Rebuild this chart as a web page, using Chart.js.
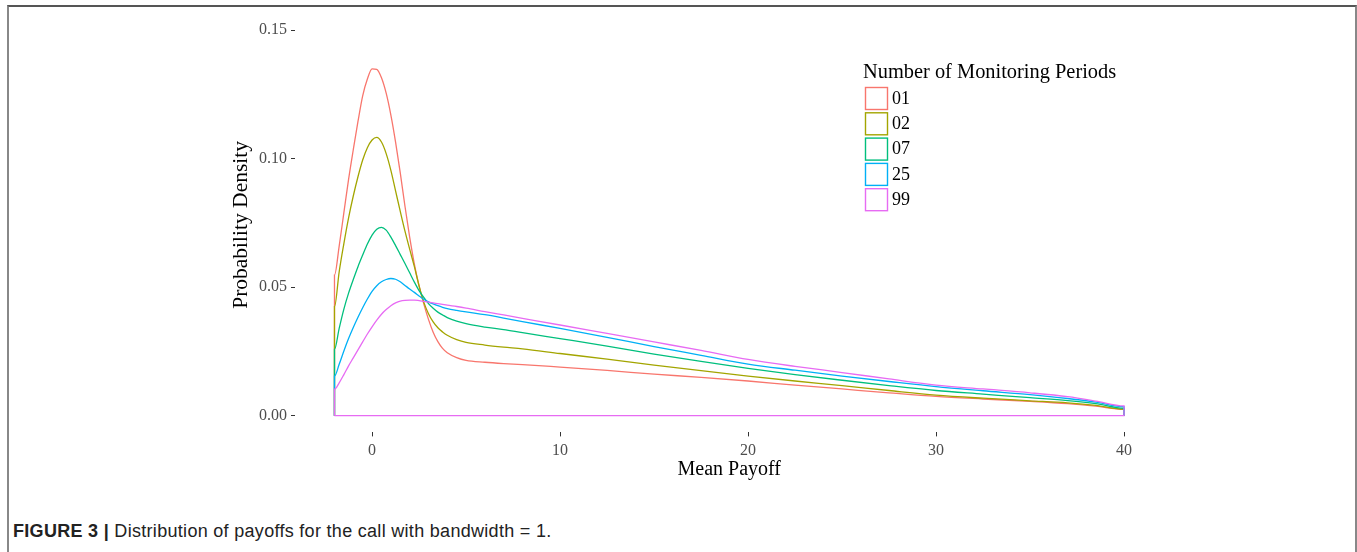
<!DOCTYPE html>
<html>
<head>
<meta charset="utf-8">
<script src="https://cdn.jsdelivr.net/npm/chart.js@4.4.0/dist/chart.umd.min.js"></script>
<style>
  body { margin: 0; background: #fff; width: 1357px; height: 552px; overflow: hidden; position: relative; }
  #frame { position: absolute; left: 7px; top: 5px; width: 1346px; height: 600px;
           border-top: 2px solid #555; border-left: 2px solid #888; border-right: 2px solid #888; }
  #myChart { position: absolute; left: 0; top: 0; }
  #caption { position: absolute; left: 13px; top: 521px; font-family: "Liberation Sans", Arial, sans-serif;
             font-size: 18px; line-height: 20px; letter-spacing: 0.3px; color: #222; white-space: nowrap; }
  #caption b { font-weight: bold; }
</style>
</head>
<body>
<div id="frame"></div>
<canvas id="myChart" width="1357" height="482"></canvas>
<div id="caption"><b>FIGURE 3 |</b> Distribution of payoffs for the call with bandwidth = 1.</div>
<script>
// x-värden (Mean Payoff) som alla kurvor läses av på
const payoffs = [-2, -1.75, -1.5, -1.25, -1, -0.75, -0.5, -0.25, 0, 0.25, 0.5, 0.75, 1, 1.25, 1.5, 1.75,
  2, 2.25, 2.5, 2.75, 3, 3.25, 3.5, 3.75, 4, 4.5, 5, 6, 7, 8, 10, 12.5, 15, 17.5, 20, 22.5, 25, 27.5,
  30, 32.5, 35, 37, 38.5, 40];

const periodLabels = ["01", "02", "07", "25", "99"];
const periodColors = ["#F8766D", "#A3A500", "#00BF7D", "#00B0F6", "#E76BF3"];

const density01 = [0.0547, 0.066, 0.079, 0.092, 0.1035, 0.1145, 0.1245, 0.131, 0.135, 0.1348, 0.1315, 0.1255,
  0.117, 0.1065, 0.0945, 0.0815, 0.0695, 0.059, 0.0505, 0.0435, 0.0375, 0.0325, 0.0288, 0.0262, 0.0245,
  0.0226, 0.0215, 0.0208, 0.0203, 0.0199, 0.0189, 0.0176, 0.0162, 0.0149, 0.0135, 0.0119, 0.0104,
  0.0089, 0.0075, 0.0065, 0.0056, 0.0047, 0.0037, 0.0025];
const density02 = [0.0424, 0.056, 0.067, 0.077, 0.0855, 0.093, 0.0995, 0.1043, 0.1073, 0.1083, 0.1065, 0.102,
  0.0955, 0.0875, 0.0795, 0.0718, 0.0648, 0.058, 0.0505, 0.0442, 0.0397, 0.0365, 0.0342, 0.0326, 0.0313,
  0.0296, 0.0285, 0.0275, 0.0267, 0.026, 0.0242, 0.022, 0.0197, 0.0175, 0.0154, 0.0135, 0.0117,
  0.0098, 0.0080, 0.0068, 0.0058, 0.0050, 0.0040, 0.0025];
const density07 = [0.0258, 0.034, 0.0415, 0.0477, 0.053, 0.058, 0.0625, 0.0668, 0.0703, 0.0726, 0.0733, 0.0722,
  0.0695, 0.0662, 0.0627, 0.0592, 0.0556, 0.052, 0.0487, 0.046, 0.0436, 0.0418, 0.0403, 0.0392, 0.0382,
  0.0368, 0.0358, 0.0345, 0.0335, 0.0323, 0.0300, 0.0271, 0.0240, 0.0211, 0.0184, 0.0160, 0.0138,
  0.0117, 0.0098, 0.0084, 0.0070, 0.0059, 0.0047, 0.0029];
const density25 = [0.0154, 0.020, 0.0252, 0.030, 0.0343, 0.0383, 0.042, 0.0454, 0.0484, 0.0506, 0.0521, 0.053,
  0.0534, 0.0531, 0.0521, 0.0507, 0.0493, 0.048, 0.0466, 0.0453, 0.0443, 0.0435, 0.0428, 0.0422, 0.0417,
  0.041, 0.0404, 0.0393, 0.038, 0.0366, 0.0340, 0.0305, 0.0269, 0.0235, 0.0201, 0.0177, 0.0154,
  0.0133, 0.0113, 0.0097, 0.0082, 0.0067, 0.0053, 0.0035];
const density99 = [0.0103, 0.0128, 0.016, 0.0194, 0.0225, 0.0256, 0.0287, 0.0318, 0.0346, 0.0372, 0.0395, 0.0413,
  0.0428, 0.0439, 0.0446, 0.0449, 0.045, 0.045, 0.0448, 0.0445, 0.0442, 0.0439, 0.0436, 0.0433, 0.043,
  0.0425, 0.0419, 0.0405, 0.0392, 0.0379, 0.0353, 0.032, 0.0287, 0.0254, 0.0219, 0.0192, 0.0168,
  0.0143, 0.0119, 0.0104, 0.0089, 0.0074, 0.0057, 0.0038];

const yTicks = [0, 0.05, 0.10, 0.15];
const xTicks = [0, 10, 20, 30, 40];

const allDensities = [density01, density02, density07, density25, density99];

// ggplot ritar densiteten som kontur: lodrätt ner till 0 vid ändarna,
// baslinjen syns bara från den sista (översta) serien
const toOutline = (values, withBase) => {
  const pts = [{ x: payoffs[0], y: 0 }];
  for (let i = 0; i < payoffs.length; i++) {
    pts.push({ x: payoffs[i], y: values[i] });
  }
  pts.push({ x: payoffs[payoffs.length - 1], y: 0 });
  if (withBase) pts.push({ x: payoffs[0], y: 0 });
  return pts;
};

const serif = "'Liberation Serif', 'Times New Roman', serif";

const legendPlugin = {
  id: "boxLegend",
  afterDraw(chart) {
    const c = chart.ctx;
    c.save();
    c.fillStyle = "#000";
    c.font = "20.4px " + serif;
    c.textBaseline = "middle";
    c.textAlign = "left";
    c.fillText("Number of Monitoring Periods", 863, 73);
    chart.data.datasets.forEach((ds, i) => {
      const top = 87 + i * 25.3;
      c.strokeStyle = ds.borderColor;
      c.lineWidth = 1.4;
      c.strokeRect(865.5, top + 0.5, 22, 22);
      c.fillStyle = "#000";
      c.font = "18px " + serif;
      c.fillText(ds.label, 892, top + 12);
    });
    c.restore();
  },
};

const ctx = document.querySelector("#myChart").getContext("2d");
const myChart = new Chart(ctx, {
  type: "line",
  data: {
    datasets: periodLabels.map((label, i) => ({
      label: label,
      data: toOutline(allDensities[i], i === periodLabels.length - 1),
      borderColor: periodColors[i],
      backgroundColor: "rgba(0,0,0,0)",
      borderWidth: 1.3,
      pointRadius: 0,
      fill: false,
      cubicInterpolationMode: "monotone",
      order: periodLabels.length - i,
    })),
  },
  options: {
    responsive: false,
    animation: false,
    devicePixelRatio: 1,
    layout: {
      padding: { left: 228, right: 193.5, top: 17.4, bottom: 0 },
    },
    plugins: {
      legend: { display: false },
      tooltip: { enabled: false },
    },
    scales: {
      x: {
        type: "linear",
        min: -4.1,
        max: 42.1,
        afterBuildTicks: (scale) => { scale.ticks = xTicks.map((v) => ({ value: v })); },
        afterFit: (scale) => { scale.height = 482 - 432.4; },
        ticks: {
          font: { family: serif, size: 16 },
          color: "#4d4d4d",
          padding: 5,
          maxRotation: 0,
        },
        grid: { drawOnChartArea: false, tickLength: 4, color: "#333", lineWidth: 1 },
        border: { display: false },
        title: {
          display: true,
          text: "Mean Payoff",
          font: { family: serif, size: 20 },
          color: "#000",
          padding: { top: 0, bottom: 0 },
        },
      },
      y: {
        min: -0.0065,
        max: 0.155,
        afterBuildTicks: (scale) => { scale.ticks = yTicks.map((v) => ({ value: v })); },
        afterFit: (scale) => { scale.width = 67; },
        ticks: {
          font: { family: serif, size: 16 },
          color: "#4d4d4d",
          padding: 4,
          callback: (v) => Number(v).toFixed(2),
        },
        grid: { drawOnChartArea: false, tickLength: 4, color: "#333", lineWidth: 1 },
        border: { display: false },
        title: {
          display: true,
          text: "Probability Density",
          font: { family: serif, size: 21.5 },
          color: "#000",
          padding: { top: 0, bottom: 0 },
        },
      },
    },
  },
  plugins: [legendPlugin],
});
</script>
</body>
</html>
